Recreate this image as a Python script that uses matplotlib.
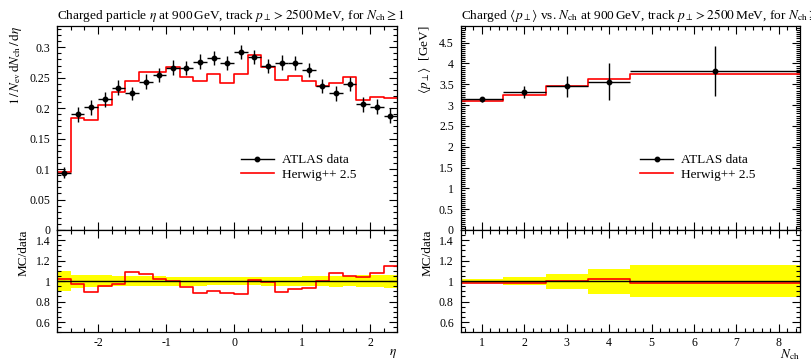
import numpy as np
import matplotlib
matplotlib.use("Agg")
import matplotlib.pyplot as plt
from matplotlib.ticker import MultipleLocator, FuncFormatter
from matplotlib.lines import Line2D

plt.rcParams['font.family'] = ['Liberation Serif', 'DejaVu Serif']
plt.rcParams['mathtext.fontset'] = 'stix'

# ---- eta distribution (left) ----
eta_edges = [-2.6, -2.4, -2.2, -2.0, -1.8, -1.6, -1.4, -1.2, -1.0, -0.8, -0.6, -0.4, -0.2,
             0.0, 0.2, 0.4, 0.6, 0.8, 1.0, 1.2, 1.4, 1.6, 1.8, 2.0, 2.2, 2.4]
eta_data = [0.094, 0.190, 0.2016, 0.2147, 0.2338, 0.2246, 0.2437, 0.2547, 0.2668, 0.2663,
            0.2767, 0.2827, 0.274, 0.292, 0.2839, 0.270, 0.275, 0.274, 0.263, 0.2366,
            0.2246, 0.240, 0.2065, 0.2026, 0.1877]
eta_err = [0.009, 0.012, 0.012, 0.012, 0.012, 0.011, 0.012, 0.012, 0.012, 0.012,
           0.012, 0.012, 0.0115, 0.0115, 0.0115, 0.0115, 0.012, 0.012, 0.012, 0.012,
           0.012, 0.012, 0.012, 0.012, 0.012]
eta_mc = [0.0959, 0.184, 0.180, 0.205, 0.227, 0.244, 0.260, 0.260, 0.268, 0.252,
          0.245, 0.256, 0.241, 0.2555, 0.287, 0.267, 0.246, 0.253, 0.245, 0.237,
          0.242, 0.251, 0.214, 0.219, 0.216]

# ---- mean pT vs Nch (right) ----
nch_edges = [0.5, 1.5, 2.5, 3.5, 4.5, 8.5]
nch_centers = [1.0, 2.0, 3.0, 4.0, 6.5]
pt_data = [3.135, 3.32, 3.45, 3.56, 3.82]
pt_err = [0.06, 0.14, 0.25, 0.44, 0.60]
pt_mc = [3.087, 3.25, 3.46, 3.62, 3.745]

W, H = 812, 363
fig = plt.figure(figsize=(W / 100, H / 100), dpi=100)
plain = FuncFormatter(lambda v, pos: '%g' % round(v, 6))


def frac(x0, y0, x1, y1):
    return [x0 / W, 1 - y1 / H, (x1 - x0) / W, (y1 - y0) / H]


def style_axes(ax, xmaj, xmin, ymaj, ymin):
    ax.xaxis.set_major_locator(MultipleLocator(xmaj))
    ax.xaxis.set_minor_locator(MultipleLocator(xmin))
    ax.yaxis.set_major_locator(MultipleLocator(ymaj))
    ax.yaxis.set_minor_locator(MultipleLocator(ymin))
    ax.xaxis.set_major_formatter(plain)
    ax.yaxis.set_major_formatter(plain)
    ax.tick_params(which='both', direction='in', top=True, right=True,
                   labelsize=8.5, width=0.8, pad=4)
    ax.tick_params(which='major', length=5.5)
    ax.tick_params(which='minor', length=2.8)
    for s in ax.spines.values():
        s.set_linewidth(0.9)


def step(ax, edges, vals, **kw):
    v = list(vals) + [vals[-1]]
    ax.step(edges, v, where='post', **kw)


def draw_panel(x0, x1, edges, centers, data, err, mc, xlim, ylim,
               ymaj, ymin, xmaj, xmin, title, ylabel, xlabel, legend_x):
    edges = np.asarray(edges)
    centers = np.asarray(centers)
    data = np.asarray(data)
    err = np.asarray(err)
    mc = np.asarray(mc)
    xerr_lo = centers - edges[:-1]
    xerr_hi = edges[1:] - centers

    ax = fig.add_axes(frac(x0, 26, x1, 230))
    style_axes(ax, xmaj, xmin, ymaj, ymin)
    ax.tick_params(labelbottom=False)
    ax.tick_params(axis='y', pad=5)
    step(ax, edges, mc, color='red', lw=1.2, zorder=2)
    ax.errorbar(centers, data, yerr=err, xerr=[xerr_lo, xerr_hi], fmt='o', color='black',
                ms=3.2, elinewidth=1.0, capsize=0, zorder=3)
    ax.set_xlim(*xlim)
    ax.set_ylim(*ylim)
    ax.set_title(title, loc='left', fontsize=9.6, pad=5)
    ax.set_ylabel(ylabel, loc='top', fontsize=9.5)

    handles = [Line2D([], [], color='black', marker='o', ms=3.2, lw=1.0),
               Line2D([], [], color='red', lw=1.2)]
    ax.legend(handles, ['ATLAS data', 'Herwig++ 2.5'], loc='upper left',
              bbox_to_anchor=(legend_x, 0.405), frameon=False, fontsize=9.5,
              handlelength=2.5, handletextpad=0.6, labelspacing=0.2, borderpad=0)

    rx = fig.add_axes(frac(x0, 230, x1, 332.3))
    style_axes(rx, xmaj, xmin, 0.2, 0.05)
    rx.tick_params(axis='y', pad=5)
    rx.tick_params(axis='x', pad=3.5)
    band_lo = list(1 - err / data)
    band_hi = list(1 + err / data)
    rx.fill_between(edges, band_lo + [band_lo[-1]], band_hi + [band_hi[-1]],
                    step='post', color='#ffff00', lw=0, zorder=1)
    step(rx, edges, mc / data, color='red', lw=1.2, zorder=2)
    rx.axhline(1.0, color='black', lw=1.0, zorder=3)
    rx.set_xlim(*xlim)
    rx.set_ylim(0.5, 1.5)
    rx.set_ylabel('MC/data', loc='top', fontsize=9.5)
    rx.set_xlabel(xlabel, loc='right', fontsize=9.5, labelpad=-1.5)
    return ax, rx


draw_panel(57.3, 397.3, eta_edges, 0.5 * (np.array(eta_edges[:-1]) + np.array(eta_edges[1:])),
           eta_data, eta_err, eta_mc, (-2.6, 2.4), (0, 0.335), 0.05, 0.01, 1, 0.2,
           r'Charged particle $\eta$ at 900$\,$GeV, track $p_\perp > 2500\,$MeV, for $N_\mathrm{ch} \geq 1$',
           r'$1\,/\,N_\mathrm{ev}\,\mathrm{d}N_\mathrm{ch}\,/\,\mathrm{d}\eta$', r'$\eta$', 0.52)

draw_panel(460.7, 800.0, nch_edges, nch_centers, pt_data, pt_err, pt_mc,
           (0.5, 8.5), (0, 4.9), 0.5, 0.05, 1, 0.2,
           r'Charged $\langle p_\perp \rangle$ vs. $N_\mathrm{ch}$ at 900$\,$GeV, track $p_\perp > 2500\,$MeV, for $N_\mathrm{ch} \geq 1$',
           r'$\langle p_\perp \rangle$  [GeV]', r'$N_\mathrm{ch}$', 0.51)

fig.savefig('out.png', dpi=100)
